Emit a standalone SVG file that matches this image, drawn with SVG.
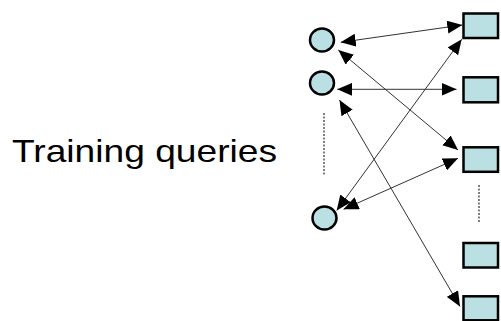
<svg xmlns="http://www.w3.org/2000/svg" width="501" height="321" viewBox="0 0 501 321">
<style>
.node{fill:#bbe0e3;stroke:#000;stroke-width:2.5}
.conn{stroke:#333;stroke-width:1;fill:none;marker-start:url(#ah);marker-end:url(#ah)}
.dots{stroke:#000;stroke-width:1;stroke-dasharray:2 1.5}
.lbl{font-family:"Liberation Sans",Arial,sans-serif;font-size:32px;fill:#000}
</style>
<defs>
<marker id="ah" markerUnits="userSpaceOnUse" markerWidth="15" markerHeight="13" refX="15" refY="6.5" orient="auto-start-reverse">
<path d="M0,0 L15,6.5 L0,13 Z" fill="#000"/>
</marker>
</defs>
<rect width="501" height="321" fill="#fff"/>
<text class="lbl" x="12" y="162" textLength="265" lengthAdjust="spacingAndGlyphs">Training queries</text>
<g id="connectors">
<line class="conn" x1="340.7" y1="42.3" x2="462.3" y2="25"/>
<line class="conn" x1="338.3" y1="50" x2="458" y2="150"/>
<line class="conn" x1="337.3" y1="89.3" x2="456.5" y2="89.3"/>
<line class="conn" x1="339.5" y1="100" x2="460" y2="306.5"/>
<line class="conn" x1="461.7" y1="39.3" x2="336.7" y2="210.5"/>
<line class="conn" x1="458" y1="158.3" x2="343.5" y2="209.3"/>
<line class="dots" x1="324" y1="113" x2="324" y2="176"/>
<line class="dots" x1="479" y1="185" x2="479" y2="223"/>
</g>
<g id="q1"><ellipse class="node" cx="322" cy="40" rx="12" ry="11.5"/></g>
<g id="q2"><ellipse class="node" cx="322" cy="83" rx="12" ry="11.5"/></g>
<g id="q3"><ellipse class="node" cx="324.5" cy="218" rx="12" ry="11.5"/></g>
<g id="d1"><rect class="node" x="463.5" y="13.5" width="34.5" height="24.5"/></g>
<g id="d2"><rect class="node" x="463.5" y="77.3" width="34.5" height="25"/></g>
<g id="d3"><rect class="node" x="463.5" y="147.3" width="34.5" height="24.5"/></g>
<g id="d4"><rect class="node" x="463.5" y="243" width="34.5" height="24.5"/></g>
<g id="d5"><rect class="node" x="463.5" y="296.3" width="34.5" height="24"/></g>
</svg>
